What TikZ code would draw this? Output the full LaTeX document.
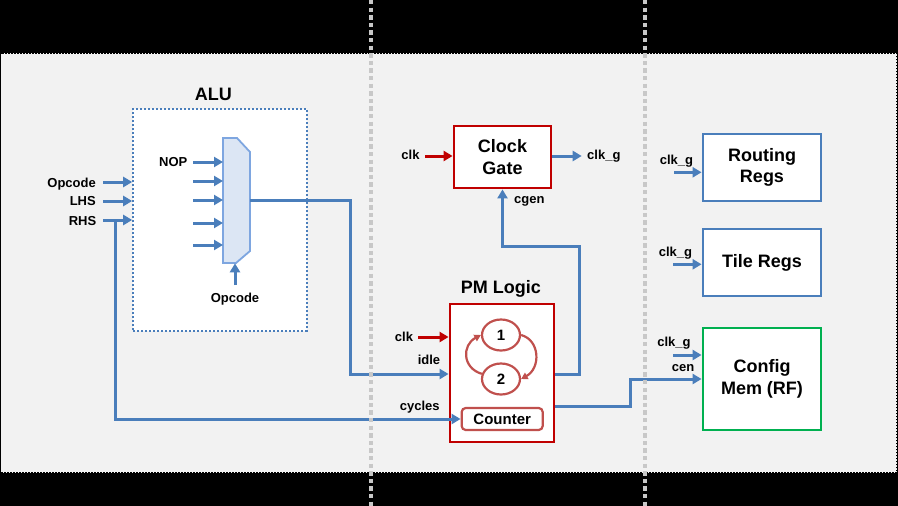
\documentclass[tikz,border=0pt]{standalone}
\usepackage{fontspec}
\setmainfont{Liberation Sans}
\usetikzlibrary{arrows.meta,shapes.geometric}
\definecolor{bl}{HTML}{4A7EBB}
\definecolor{rd}{HTML}{C00000}
\definecolor{rdl}{HTML}{C0504D}
\definecolor{gn}{HTML}{00B050}
\definecolor{pn}{HTML}{F2F2F2}
\definecolor{vl}{HTML}{C8C8C8}
\definecolor{muxf}{HTML}{DCE6F4}
\definecolor{muxd}{HTML}{7EA6E0}
\begin{document}
\begin{tikzpicture}[x=1pt,y=-1pt,
  lbl/.style={font=\fontsize{13}{15}\selectfont\bfseries, inner sep=0pt, text height=9.3pt, text depth=0pt},
  ttl/.style={font=\fontsize{18}{21}\selectfont\bfseries, inner sep=0pt, text height=12.9pt, text depth=0pt},
  boxbase/.style={line width=2.8pt, fill=white, inner sep=0pt, align=center, font=\fontsize{18}{21.5}\selectfont\bfseries},
  bluebox/.style={boxbase, draw=bl, minimum width=118pt, minimum height=67pt},
  redbox/.style={boxbase, draw=rd},
  stnode/.style={ellipse, draw=rdl, line width=2.2pt, fill=white, minimum width=38pt, minimum height=31pt, inner sep=0pt, font=\fontsize{15}{17}\selectfont\bfseries},
  barrow/.style={draw=bl, line width=3pt, -{Triangle[length=9pt,width=10pt]}},
  rarrow/.style={draw=rd, line width=3pt, -{Triangle[length=9pt,width=10pt]}},
  sarrow/.style={draw=rdl, line width=2.2pt, -{Triangle[length=6.5pt,width=7pt]}},
  divider/.style={draw=vl, line width=4pt, dash pattern=on 4.3pt off 3.3pt},
]
\useasboundingbox (0,0) rectangle (898,506);
% background
\fill[black] (0,0) rectangle (898,506);
\path[fill=pn, draw=black, line width=1.2pt, dash pattern=on 1.5pt off 1.5pt] (0.5,53.3) rectangle (896.7,472.7);

% ALU
\node[draw=bl, line width=2.2pt, dash pattern=on 2pt off 2pt, fill=white, minimum width=173.4pt, minimum height=222pt, inner sep=0pt] (alu) at (220,220) {};
\node[ttl] (alut) at (213.3,93.7) {ALU};
\filldraw[fill=muxf, draw=muxd, line width=1.8pt] (223,138) -- (237,138) -- (250,152) -- (250,251) -- (236,263) -- (223,263) -- cycle;
\coordinate (mxo) at (250,200);
\coordinate (mxb) at (235,263.3);
\coordinate (mxbs) at (235,285);
\foreach \i/\yy in {1/162,2/181,3/200,4/223,5/245}{
  \coordinate (mi\i) at (193,\yy);
  \coordinate (mt\i) at (223,\yy);
  \draw[barrow] (mi\i) -- (mt\i);
}
\draw[barrow] (mxbs) -- (mxb);
\node[lbl] (lop2) at (235,298) {Opcode};
\node[lbl, anchor=east] (lnop) at (187.5,161.7) {NOP};

% left inputs
\coordinate (iop) at (103,182);
\coordinate (ilhs) at (103,201);
\coordinate (irhs) at (103,220);
\draw[barrow] (iop) -- (iop -| alu.west);
\draw[barrow] (ilhs) -- (ilhs -| alu.west);
\draw[barrow] (irhs) -- (irhs -| alu.west);
\node[lbl, anchor=east] (lop) at (96,182.5) {Opcode};
\node[lbl, anchor=east] (llhs) at (96,201.3) {LHS};
\node[lbl, anchor=east] (lrhs) at (96.5,220.8) {RHS};

% Clock gate
\node[redbox, minimum width=97pt, minimum height=62pt] (cg) at (502.5,157) {Clock\\Gate};
\coordinate (ck1) at (425,156);
\draw[rarrow] (ck1) -- (ck1 -| cg.west);
\node[lbl] (lck1) at (410.5,155) {clk};
\coordinate (cgo) at (581.7,156);
\draw[barrow] (cg.east |- cgo) -- (cgo);
\node[lbl, anchor=west] (lcg) at (587,155) {clk\_g};

% PM logic
\node[redbox, minimum width=104pt, minimum height=138pt] (pm) at (502,373) {};
\node[ttl] (pmt) at (500.8,286.7) {PM Logic};
\node[stnode] (s1) at (501,335) {1};
\node[stnode] (s2) at (501,379) {2};
\draw[sarrow] (s2.165) .. controls (462,368) and (462,345) .. (s1.west);
\draw[sarrow] (s1.east) .. controls (540,340) and (541,368) .. (s2.east);
\node[draw=rdl, line width=2.2pt, fill=white, rounded corners=4pt, minimum width=81pt, minimum height=22pt, inner sep=0pt, font=\fontsize{15}{17}\selectfont\bfseries] (cnt) at (502.2,419) {Counter};

\coordinate (ck2) at (418,337);
\draw[rarrow] (ck2) -- (ck2 -| pm.west);
\node[lbl] (lck2) at (404,336.7) {clk};

% idle
\coordinate (idl) at (350,374);
\draw[barrow] (mxo) -| (idl) -- (idl -| pm.west);
\node[lbl] (lidle) at (429,360) {idle};

% cycles
\coordinate (rb) at (115,220);
\coordinate (cyc) at (115,419);
\draw[barrow] (rb) -- (cyc) -- (cyc -| cnt.west);
\node[lbl] (lcyc) at (419.7,406) {cycles};

% cgen
\coordinate (c1) at (579,374);
\coordinate (c2) at (502.5,246);
\draw[barrow] (pm.east |- c1) -- (c1) |- (c2) -- (cg.south);
\node[lbl, anchor=west] (lcgen) at (514,198.5) {cgen};

% right boxes
\node[bluebox] (rr) at (762,167.5) {Routing\\Regs};
\node[bluebox] (tr) at (762,262.5) {Tile Regs};
\node[boxbase, draw=gn, minimum width=118pt, minimum height=102pt] (cm) at (762,379) {Config\\Mem (RF)};

\coordinate (g1) at (674,172.3);
\coordinate (g2) at (673,264.3);
\coordinate (g3) at (673,355);
\draw[barrow] (g1) -- (g1 -| rr.west);
\draw[barrow] (g2) -- (g2 -| tr.west);
\draw[barrow] (g3) -- (g3 -| cm.west);
\node[lbl] (lg1) at (676.5,159.7) {clk\_g};
\node[lbl] (lg2) at (675.5,251.7) {clk\_g};
\node[lbl] (lg3) at (674,342.3) {clk\_g};

% cen
\coordinate (e1) at (630,406);
\coordinate (e2) at (630,379);
\draw[barrow] (pm.east |- e1) -- (e1) -- (e2) -- (cm.west);
\node[lbl] (lcen) at (683,367.3) {cen};

% dividers
\coordinate (d1t) at (371,0);
\coordinate (d1b) at (371,506);
\coordinate (d2t) at (645,0);
\coordinate (d2b) at (645,506);
\draw[divider] (d1t) -- (d1b);
\draw[divider] (d2t) -- (d2b);
\end{tikzpicture}
\end{document}
